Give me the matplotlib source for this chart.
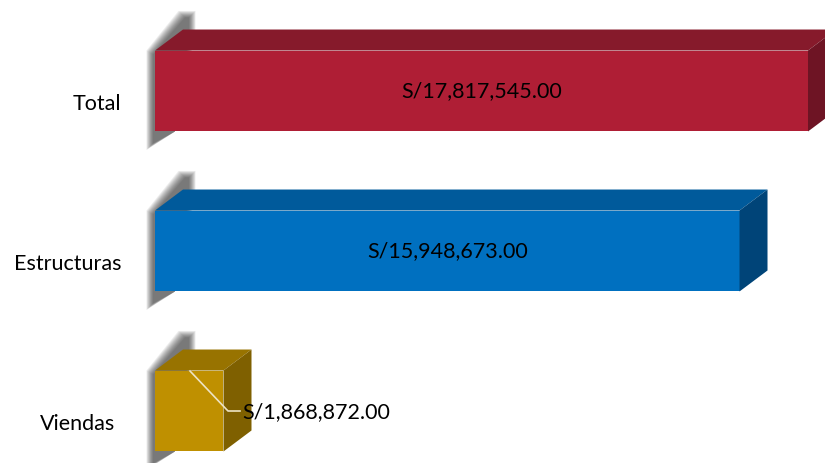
import numpy as np
import matplotlib
matplotlib.use("Agg")
import matplotlib.pyplot as plt
from matplotlib.patches import Polygon

categories = ["Viendas", "Estructuras", "Total"]
values = [1868872.00, 15948673.00, 17817545.00]
labels = ["S/1,868,872.00", "S/15,948,673.00", "S/17,817,545.00"]

front_cols = ["#BF9000", "#0070C0", "#AF1E35"]
top_cols = ["#987300", "#005A9B", "#861A2B"]
side_cols = ["#7F6000", "#004478", "#6E1424"]

plt.rcParams['font.family'] = ['Lato', 'DejaVu Sans']

fig = plt.figure(figsize=(8.25, 4.64), dpi=100)
ax = fig.add_axes([0, 0, 1, 1])
ax.set_axis_off()

# pixel based scales
px = 17817545.0 / 653.0
py = 1 / 160.0
ax.set_xlim(-155 * px, 670 * px)
ax.set_ylim((412 - 464) * py, 412 * py)

h = 0.253          # half bar height
dx = 28 * px       # depth offset
dy = 21 * py

lab_shift = [6, 0, 0]

for i, v in enumerate(values):
    y0, y1 = i - h, i + h
    # soft shadow on the left (stacked faint layers = blur)
    for k in range(12):
        g = (11 - k) * 0.6
        sh = Polygon([(-(2 + g) * px, y0 - (12 + g) * py),
                      (-(2 + g) * px, y1 - (4 - g * 0.6) * py),
                      (dx + (2 - g) * px, y1 + dy + (12 + g) * py),
                      (dx + (6 + g) * px, y1 + dy + (12 + g) * py),
                      (dx + (6 + g) * px, y1 + dy - 4 * py),
                      (20 * px, y0)],
                     closed=True, facecolor="#202020", edgecolor="none", alpha=0.07, zorder=1)
        ax.add_patch(sh)
    front = Polygon([(0, y0), (v, y0), (v, y1), (0, y1)], closed=True,
                    facecolor=front_cols[i], edgecolor="none", zorder=3)
    top = Polygon([(0, y1), (v, y1), (v + dx, y1 + dy), (dx, y1 + dy)], closed=True,
                  facecolor=top_cols[i], edgecolor="none", zorder=3)
    side = Polygon([(v, y0), (v + dx, y0 + dy), (v + dx, y1 + dy), (v, y1)], closed=True,
                   facecolor=side_cols[i], edgecolor="none", zorder=3)
    ax.add_patch(front)
    ax.add_patch(top)
    ax.add_patch(side)
    ax.text(-(34 + lab_shift[i]) * px, i - 12 * py, categories[i], ha="right", va="center",
            fontsize=15.5, color="black")

# value labels
for i in (1, 2):
    ax.text(values[i] / 2, i + 1 * py, labels[i], ha="center", va="center",
            fontsize=15.5, color="black", zorder=5)

# small bar label with leader line
ax.plot([35 * px, 73 * px, 85 * px], [40 * py, 0, 0], color="#EDE3C4", lw=1.2, zorder=4)
ax.text(87 * px, 0, labels[0], ha="left", va="center", fontsize=15.5, color="black", zorder=5)

fig.savefig("out.png", dpi=100)
